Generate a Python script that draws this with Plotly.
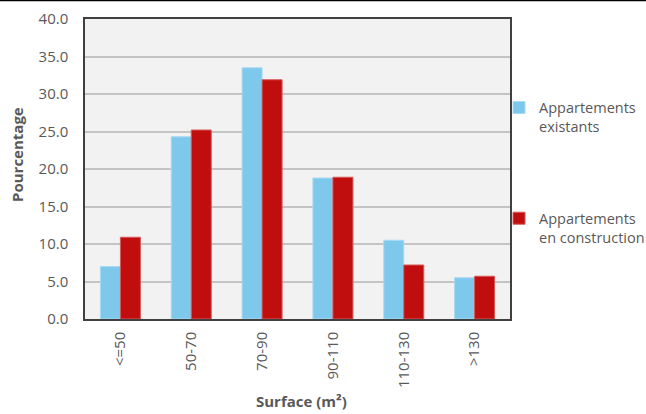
import plotly.graph_objects as go

categories = ["<=50", "50-70", "70-90", "90-110", "110-130", ">130"]
existants = [7.0, 24.3, 33.5, 18.8, 10.5, 5.5]
construction = [10.9, 25.2, 31.9, 18.9, 7.2, 5.7]
y_ticks = [0, 5, 10, 15, 20, 25, 30, 35, 40]

FONT = "Open Sans"
GREY = "#595959"

# plot area in pixels
L, R, T, B = 85, 136, 19, 95
W, H = 646, 414
PW, PH = W - L - R, H - T - B

fig = go.Figure()
fig.add_trace(go.Bar(
    x=categories, y=existants,
    name="Appartements<br>existants",
    legendgroup="a",
    marker=dict(color="#7EC8EC", line=dict(color="#A8DAF3", width=1)),
))
fig.add_trace(go.Bar(
    x=categories, y=construction,
    name="Appartements<br>en construction",
    legendgroup="b",
    marker=dict(color="#C00D0D", line=dict(color="#D65A5A", width=1)),
))

fig.update_layout(
    width=W, height=H,
    margin=dict(l=L, r=R, t=T, b=B, autoexpand=False),
    paper_bgcolor="white",
    plot_bgcolor="#F2F2F2",
    barmode="group",
    bargap=0.435,
    bargroupgap=0,
    font=dict(family=FONT, color=GREY, size=15),
    showlegend=True,
    legend=dict(
        x=(499 - L) / PW, xanchor="left",
        y=0.758, yanchor="top",
        traceorder="grouped",
        tracegroupgap=70,
        valign="top",
        font=dict(family=FONT, color=GREY, size=14.5),
        itemwidth=30,
        bgcolor="rgba(0,0,0,0)",
    ),
    xaxis=dict(
        tickangle=-90,
        showline=True, linecolor="#404040", linewidth=1.5,
        mirror=True,
        ticks="", ticklen=0,
        ticklabelstandoff=5,
        tickfont=dict(size=15, color=GREY),
    ),
    yaxis=dict(
        range=[0, 40],
        tickvals=y_ticks,
        tickformat=".1f",
        showgrid=True, gridcolor="#C4C4C4", gridwidth=1.5,
        showline=True, linecolor="#404040", linewidth=1.5,
        mirror=True,
        zeroline=False,
        ticks="",
        ticklabelstandoff=12,
        tickfont=dict(size=15, color=GREY),
    ),
)

# axis titles
fig.add_annotation(
    text="<b>Surface (m²)</b>", xref="paper", yref="paper",
    x=(301 - L) / PW, y=-(413 - T - PH) / PH,
    xanchor="center", yanchor="bottom", showarrow=False,
    font=dict(family=FONT, size=15, color=GREY),
)
fig.add_annotation(
    text="<b>Pourcentage</b>", xref="paper", yref="paper",
    x=(17 - L) / PW, y=(T + PH - 155) / PH,
    xanchor="center", yanchor="middle", textangle=-90, showarrow=False,
    font=dict(family=FONT, size=15, color=GREY),
)

# thin rule across the top edge of the page
fig.add_shape(
    type="line", xref="paper", yref="paper",
    x0=-L / PW, x1=(W - L) / PW, y0=1 + (T - 0.5) / PH, y1=1 + (T - 0.5) / PH,
    line=dict(color="black", width=1.5),
)

fig.write_html("out.html")
